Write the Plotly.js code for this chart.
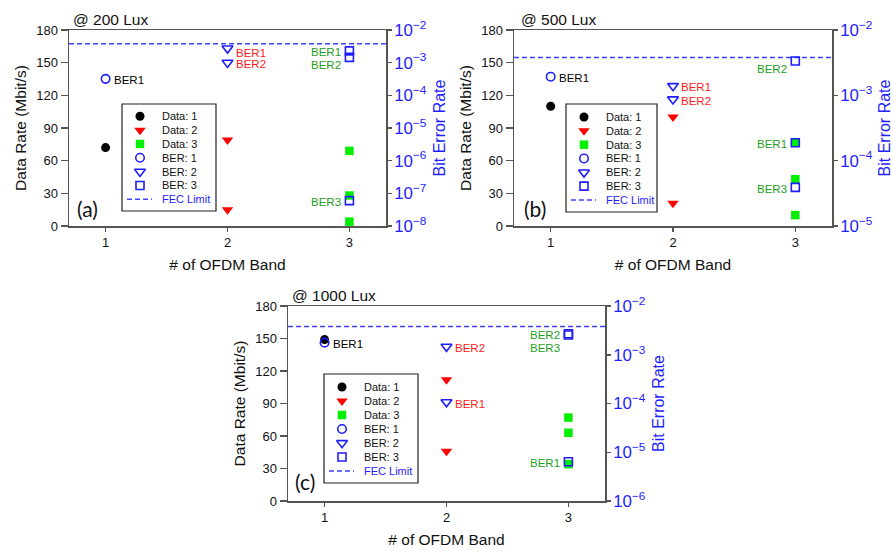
<!DOCTYPE html>
<html><head><meta charset="utf-8">
<script src="https://cdn.plot.ly/plotly-3.0.1.min.js"></script>
<style>html,body{margin:0;padding:0;background:#fff;} #chart{width:893px;height:557px;}</style>
</head><body><div id="chart"></div>
<script>
// ================= DATA =================
const bandCounts = [1, 2, 3];
const tickBands = [1, 2, 3];
const dataTicks = [0, 30, 60, 90, 120, 150, 180];
// Panel (a) @ 200 Lux  -- data rate (Mbit/s) per band, BER per band
const a_data1 = [72];
const a_data2 = [79, 15];
const a_data3 = [69, 28, 4];
const a_ber1 = [3.2e-4];
const a_ber2 = [2.75e-3, 1.0e-3];
const a_ber3 = [2.3e-3, 1.45e-3, 6.0e-8];
// Panel (b) @ 500 Lux
const b_data1 = [110];
const b_data2 = [100, 21];
const b_data3 = [77, 43, 10];
const b_ber1 = [1.93e-3];
const b_ber2 = [1.39e-3, 8.7e-4];
const b_ber3 = [1.88e-4, 3.35e-3, 3.9e-5];
// Panel (c) @ 1000 Lux
const c_data1 = [149];
const c_data2 = [112, 46];
const c_data3 = [77, 63, 34];
const c_ber1 = [1.77e-3];
const c_ber2 = [1.07e-4, 1.47e-3];
const c_ber3 = [6.4e-6, 2.7e-3, 2.55e-3];
const fecLimit = 3.8e-3;
const berPointLabels = ['BER1', 'BER2', 'BER3'];
const legendLabels = ['Data: 1', 'Data: 2', 'Data: 3', 'BER: 1', 'BER: 2', 'BER: 3', 'FEC Limit'];
const panelTitles = ['@ 200 Lux', '@ 500 Lux', '@ 1000 Lux'];
const panelTags = ['(a)', '(b)', '(c)'];
const berDecades = [[-8, -2], [-5, -2], [-6, -2]];
const xAxisTitle = '# of OFDM Band';
const leftAxisTitle = 'Data Rate (Mbit/s)';
const rightAxisTitle = 'Bit Error Rate';

// ================= LAYOUT / STYLE =================
const W = 893, H = 557;
const FONT = 'Liberation Sans, Arial, sans-serif';
const BLUE = '#1e1eff';
const LINE = '#555555';
const xRange = [0.7, 3.3];
const panels = [
  {data: [a_data1, a_data2, a_data3], ber: [a_ber1, a_ber2, a_ber3],
   box: {l: 69, r: 386, t: 30, b: 226}, leg: {l: 122, r: 216, t: 104, b: 211, r0: 116.3, r6: 199.3},
   title: [71, 19], tag: [75, 208], shifts: {'2-0': -3, '3-0': 0, '3-1': -6}},
  {data: [b_data1, b_data2, b_data3], ber: [b_ber1, b_ber2, b_ber3],
   box: {l: 514, r: 832, t: 30, b: 226}, leg: {l: 566, r: 657, t: 104, b: 212, r0: 117, r6: 200},
   title: [519, 19], tag: [522, 208], shifts: {'3-1': -6}},
  {data: [c_data1, c_data2, c_data3], ber: [c_ber1, c_ber2, c_ber3],
   box: {l: 288, r: 605, t: 306, b: 501}, leg: {l: 324, r: 418, t: 374, b: 483, r0: 387, r6: 471},
   title: [290, 295], tag: [293, 482], shifts: {'3-2': -12}}
];
const labelBaseShift = -1.5;
const dataStyle = [
  {symbol: 'circle', color: '#000000', size: 9},
  {symbol: 'triangle-down', color: '#ff0000', size: 10},
  {symbol: 'square', color: '#00ee00', size: 8.5}
];
const berStyle = [
  {symbol: 'circle-open', size: 8.5},
  {symbol: 'triangle-down-open', size: 9.5},
  {symbol: 'square-open', size: 8}
];
const labelColors = ['#000000', '#ff1a1a', '#22a022'];

const px = x => x / W;
const py = y => 1 - y / H;

const traces = [];
const layout = {
  width: W, height: H,
  margin: {l: 0, r: 0, t: 0, b: 0},
  paper_bgcolor: '#ffffff', plot_bgcolor: 'rgba(0,0,0,0)',
  showlegend: false,
  font: {family: FONT, color: '#000'},
  annotations: [], shapes: []
};

panels.forEach((p, i) => {
  const xn = i === 0 ? '' : String(i + 1);
  const yl = String(2 * i + 1), yr = String(2 * i + 2);
  const xa = 'x' + xn, yla = 'y' + (yl === '1' ? '' : yl), yra = 'y' + yr;
  const lx = String(4 + i), ly = String(7 + i);
  const xDom = [px(p.box.l), px(p.box.r)];
  const yDom = [py(p.box.b), py(p.box.t)];

  layout['xaxis' + xn] = {
    domain: xDom, anchor: yla, range: xRange, tickvals: tickBands,
    ticks: 'outside', ticklen: 4, tickwidth: 1.5, tickcolor: LINE,
    showline: true, linecolor: LINE, linewidth: 1.5, mirror: true,
    showgrid: false, zeroline: false, fixedrange: true,
    tickfont: {size: 13, family: FONT, color: '#111'},
    title: {text: xAxisTitle, font: {size: 15.5, family: FONT, color: '#111'}, standoff: 10}
  };
  layout['yaxis' + (yl === '1' ? '' : yl)] = {
    domain: yDom, anchor: xa, range: [0, 180], tickvals: dataTicks,
    ticks: 'outside', ticklen: 7, tickwidth: 1.5, tickcolor: LINE,
    showline: true, linecolor: LINE, linewidth: 1.5,
    showgrid: false, zeroline: false, fixedrange: true,
    tickfont: {size: 13, family: FONT, color: '#111'},
    title: {text: leftAxisTitle, font: {size: 15.5, family: FONT, color: '#111'}, standoff: 6}
  };
  layout['yaxis' + yr] = {
    overlaying: yla, anchor: xa, side: 'right', type: 'log',
    range: berDecades[i], dtick: 1, exponentformat: 'power',
    ticks: 'outside', ticklen: 4, tickwidth: 1.5, tickcolor: LINE,
    showline: true, linecolor: LINE, linewidth: 1.5,
    showgrid: false, zeroline: false, fixedrange: true,
    tickfont: {size: 13.5, family: FONT, color: BLUE},
    title: {text: rightAxisTitle, font: {size: 16, family: FONT, color: BLUE}, standoff: 8}
  };

  // FEC limit line across the plot (right axis)
  traces.push({x: xRange, y: [fecLimit, fecLimit], xaxis: xa, yaxis: yra, mode: 'lines',
    line: {color: '#4040ff', width: 1.5, dash: '5px,3px'}, hoverinfo: 'skip', cliponaxis: true});

  // Data-rate markers (left axis)
  p.data.forEach((vals, k) => {
    const n = bandCounts[k];
    traces.push({x: vals.map(() => n), y: vals, xaxis: xa, yaxis: yla, mode: 'markers',
      name: legendLabels[k], cliponaxis: false,
      marker: {symbol: dataStyle[k].symbol, color: dataStyle[k].color, size: dataStyle[k].size, line: {width: 0}}});
  });
  // BER markers (right axis)
  p.ber.forEach((vals, k) => {
    const n = bandCounts[k];
    traces.push({x: vals.map(() => n), y: vals, xaxis: xa, yaxis: yra, mode: 'markers',
      name: legendLabels[3 + k], cliponaxis: false,
      marker: {symbol: berStyle[k].symbol, color: BLUE, size: berStyle[k].size, line: {width: 1.6, color: BLUE}}});
    vals.forEach((v, j) => {
      const left = k === 2;
      layout.annotations.push({
        xref: xa, yref: yra, x: n, y: Math.log10(v), text: berPointLabels[j],
        showarrow: false, xanchor: left ? 'right' : 'left', yanchor: 'middle',
        xshift: left ? -6 : 6, yshift: labelBaseShift + (p.shifts[(k + 1) + '-' + j] || 0),
        font: {size: 11.5, family: FONT, color: labelColors[k]}
      });
    });
  });

  // Panel title and tag
  layout.annotations.push({xref: 'paper', yref: 'paper', x: px(p.title[0]), y: py(p.title[1]),
    xanchor: 'left', yanchor: 'middle', showarrow: false, text: panelTitles[i],
    font: {size: 15.5, family: FONT, color: '#111'}});
  layout.annotations.push({xref: 'paper', yref: 'paper', x: px(p.tag[0]), y: py(p.tag[1]),
    xanchor: 'left', yanchor: 'middle', showarrow: false, text: panelTags[i],
    font: {size: 21, family: 'Lato, Open Sans, sans-serif', color: '#111'}});

  // Inset legend (drawn on a hidden helper axis pair)
  const L = p.leg;
  const s = (L.r6 - L.r0) / 6;
  const yRng = [6 + (L.b - L.r6) / s, -(L.r0 - L.t) / s];
  const wL = L.r - L.l;
  layout['xaxis' + lx] = {domain: [px(L.l), px(L.r)], anchor: 'y' + ly, range: [0, wL], visible: false, fixedrange: true};
  layout['yaxis' + ly] = {domain: [py(L.b), py(L.t)], anchor: 'x' + lx, range: yRng, visible: false, fixedrange: true};
  layout.shapes.push({type: 'rect', xref: 'paper', yref: 'paper', x0: px(L.l), x1: px(L.r), y0: py(L.b), y1: py(L.t),
    line: {color: '#222', width: 1.2}, fillcolor: '#ffffff', layer: 'below'});
  const symX = 18, txtX = 38;
  legendLabels.forEach((lab, r) => {
    if (r < 3) {
      traces.push({x: [symX], y: [r], xaxis: 'x' + lx, yaxis: 'y' + ly, mode: 'markers', hoverinfo: 'skip',
        marker: {symbol: dataStyle[r].symbol, color: dataStyle[r].color, size: dataStyle[r].size, line: {width: 0}}});
    } else if (r < 6) {
      traces.push({x: [symX], y: [r], xaxis: 'x' + lx, yaxis: 'y' + ly, mode: 'markers', hoverinfo: 'skip',
        marker: {symbol: berStyle[r - 3].symbol, color: BLUE, size: berStyle[r - 3].size, line: {width: 1.6, color: BLUE}}});
    } else {
      traces.push({x: [5, 30], y: [r, r], xaxis: 'x' + lx, yaxis: 'y' + ly, mode: 'lines', hoverinfo: 'skip',
        line: {color: '#4040ff', width: 1.5, dash: '5px,3px'}});
    }
    layout.annotations.push({xref: 'x' + lx, yref: 'y' + ly, x: txtX, y: r, text: lab, showarrow: false,
      xanchor: 'left', yanchor: 'middle', font: {size: 11, family: FONT, color: r === 6 ? BLUE : '#111'}});
  });
});

Plotly.newPlot('chart', traces, layout, {displayModeBar: false, staticPlot: true});
</script>
</body></html>
